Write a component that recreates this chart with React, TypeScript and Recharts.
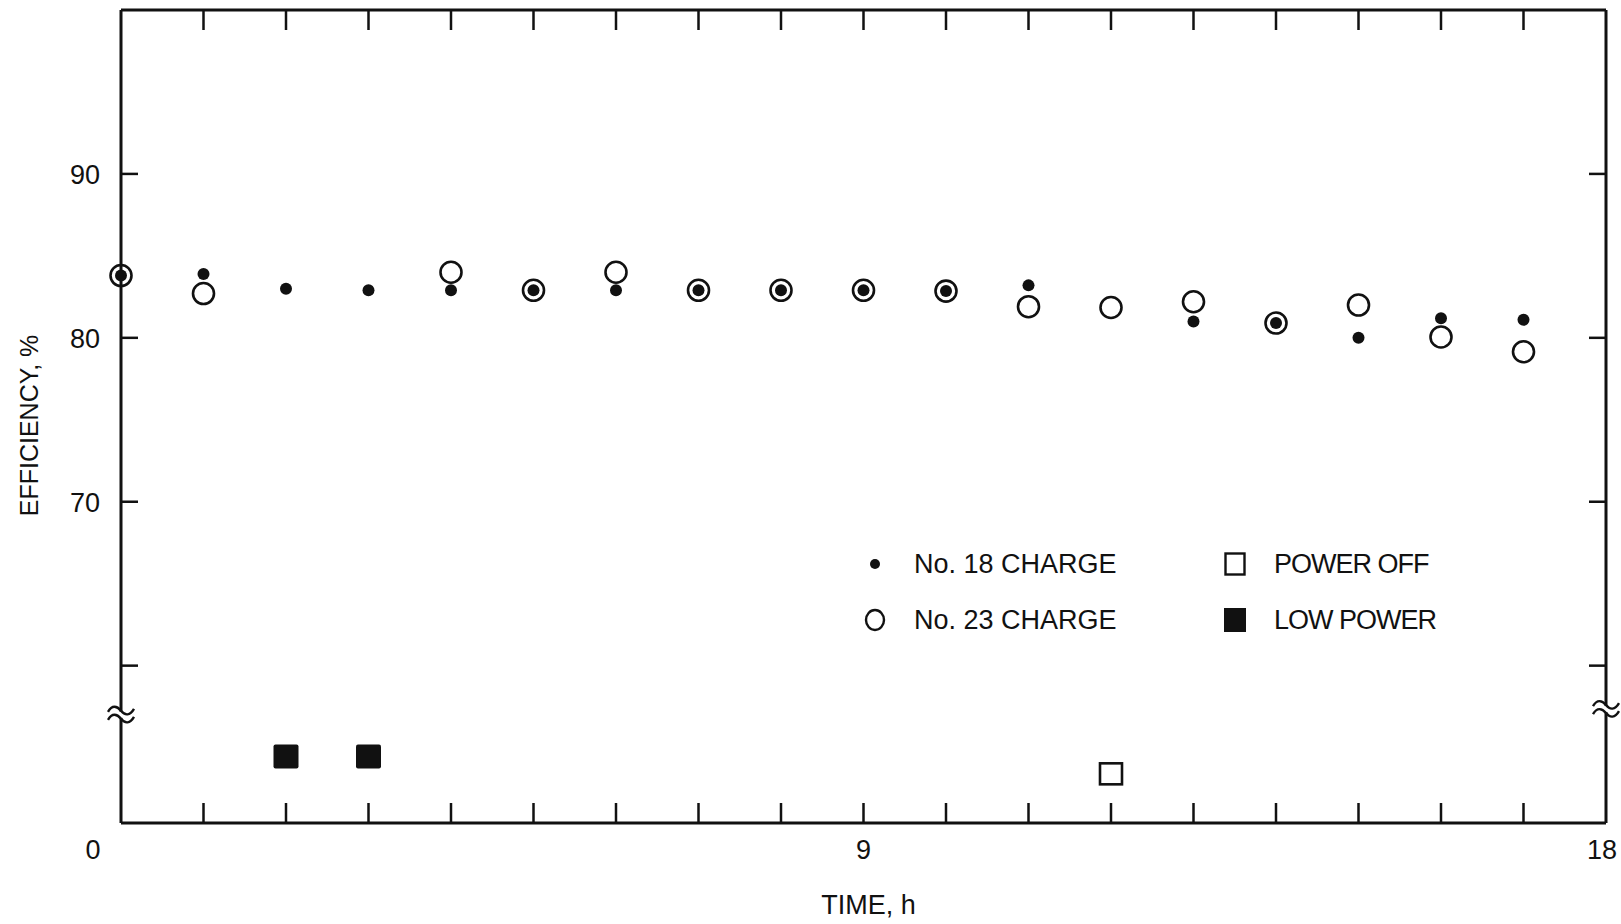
import React from 'react';
import { ScatterChart, Scatter, XAxis, YAxis, ReferenceDot } from 'recharts';

// ---- data ----
const hours = [0, 1, 2, 3, 4, 5, 6, 7, 8, 9, 10, 11, 12, 13, 14, 15, 16, 17];
const no18Charge: (number | null)[] = [83.8, 83.9, 83.0, 82.9, 82.9, 82.9, 82.9, 82.9, 82.9, 82.9, 82.85, 83.2, null, 81.0, 80.9, 80.0, 81.2, 81.1];
const no23Charge: (number | null)[] = [83.8, 82.7, null, null, 84.0, 82.9, 84.0, 82.9, 82.9, 82.9, 82.85, 81.9, 81.85, 82.2, 80.9, 82.0, 80.05, 79.15];
const lowPowerHours = [2, 3];
const lowPowerMarks = [54.45, 54.45];
const powerOffHours = [12];
const powerOffMarks = [53.4];
const xTicks = [0, 1, 2, 3, 4, 5, 6, 7, 8, 9, 10, 11, 12, 13, 14, 15, 16, 17, 18];
const xTickLabels = [0, 9, 18];
const yTicks = [60, 70, 80, 90];
const yTickLabels = [70, 80, 90];
const breakMarks = [{ x: 0, y: 57.0 }, { x: 18, y: 57.35 }];
const X_DOMAIN: [number, number] = [0, 18];
const Y_DOMAIN: [number, number] = [50.4, 100];

const toPoints = (xs: number[], ys: (number | null)[]) =>
  xs.map((x, i) => ({ x, y: ys[i] })).filter((p) => p.y !== null && p.y !== undefined);

const no18Data = toPoints(hours, no18Charge);
const no23Data = toPoints(hours, no23Charge);
const lowPowerData = toPoints(lowPowerHours, lowPowerMarks);
const powerOffData = toPoints(powerOffHours, powerOffMarks);

const FONT = "'Liberation Sans', Arial, sans-serif";
const INK = '#111';
const FS = 27;

const BottomTick = (props: any) => {
  const { x, y, payload } = props;
  const v = payload.value;
  const dx = v === 0 ? -28 : v === 18 ? -4 : 0;
  return (
    <g>
      {v > 0 && v < 18 && <line x1={x} x2={x} y1={y} y2={y - 20} stroke={INK} strokeWidth={2.5} />}
      {xTickLabels.includes(v) && (
        <text x={x + dx} y={y + 27} textAnchor="middle" dominantBaseline="central" fontSize={FS} fontFamily={FONT} fill={INK}>
          {v}
        </text>
      )}
    </g>
  );
};

const TopTick = (props: any) => {
  const { x, y, payload } = props;
  const v = payload.value;
  if (v <= 0 || v >= 18) return <g />;
  return <line x1={x} x2={x} y1={y} y2={y + 20} stroke={INK} strokeWidth={2.5} />;
};

const LeftTick = (props: any) => {
  const { x, y, payload } = props;
  const v = payload.value;
  return (
    <g>
      <line x1={x} x2={x + 17} y1={y} y2={y} stroke={INK} strokeWidth={2.5} />
      {yTickLabels.includes(v) && (
        <text x={x - 21} y={y + 1} textAnchor="end" dominantBaseline="central" fontSize={FS} fontFamily={FONT} fill={INK}>
          {v}
        </text>
      )}
    </g>
  );
};

const RightTick = (props: any) => {
  const { x, y } = props;
  return <line x1={x} x2={x - 17} y1={y} y2={y} stroke={INK} strokeWidth={2.5} />;
};

const Nothing = () => <g />;
const OpenCircle = (p: any) => <circle cx={p.cx} cy={p.cy} r={10.5} fill="none" stroke={INK} strokeWidth={2.6} />;
const Dot = (p: any) => <circle cx={p.cx} cy={p.cy} r={6} fill={INK} />;
const FilledSquare = (p: any) => <rect x={p.cx - 12.5} y={p.cy - 12} width={25} height={24} rx={2} fill={INK} />;
const OpenSquare = (p: any) => <rect x={p.cx - 11} y={p.cy - 10.5} width={22} height={21} fill="none" stroke={INK} strokeWidth={2.6} />;

const BreakMark = (p: any) => {
  const { cx, cy } = p;
  const wave = (yy: number) => `M ${cx - 13},${yy + 1} c 4,-7 9,-6 13,-1 s 9,5 13,-2`;
  return (
    <g>
      <rect x={cx - 3} y={cy - 3} width={6} height={6} fill="#fff" />
      <path d={wave(cy - 4)} fill="none" stroke={INK} strokeWidth={2.4} />
      <path d={wave(cy + 4)} fill="none" stroke={INK} strokeWidth={2.4} />
    </g>
  );
};

const legendItems = [
  { label: 'No. 18 CHARGE', kind: 'dot', col: 0, row: 0 },
  { label: 'No. 23 CHARGE', kind: 'circle', col: 0, row: 1 },
  { label: 'POWER OFF', kind: 'osquare', col: 1, row: 0 },
  { label: 'LOW POWER', kind: 'fsquare', col: 1, row: 1 },
];

const LegendIcon = ({ kind }: { kind: string }) => {
  return (
    <svg width={26} height={26} style={{ display: 'block' }}>
      {kind === 'dot' && <circle cx={13} cy={13} r={5} fill={INK} />}
      {kind === 'circle' && <ellipse cx={13} cy={13} rx={9} ry={10} fill="none" stroke={INK} strokeWidth={2.4} />}
      {kind === 'osquare' && <rect x={3.5} y={2.5} width={19} height={21} fill="none" stroke={INK} strokeWidth={2.4} />}
      {kind === 'fsquare' && <rect x={2} y={1} width={22} height={24} fill={INK} />}
    </svg>
  );
};

export default function App() {
  return (
    <div style={{ position: 'absolute', left: 0, top: 0, width: 1621, height: 924, background: '#fff', fontFamily: FONT }}>
      <ScatterChart width={1621} height={924} margin={{ top: 0, right: 5, bottom: 0, left: 0 }}>
        <XAxis
          xAxisId="bottom"
          type="number"
          dataKey="x"
          domain={X_DOMAIN}
          ticks={xTicks}
          interval={0}
          height={101}
          tickSize={0}
          tickMargin={0}
          tick={<BottomTick />}
          axisLine={{ stroke: INK, strokeWidth: 3 }}
          label={{
            content: (p: any) => {
              const vb = p.viewBox || {};
              return (
                <text x={vb.x + vb.width / 2 + 5} y={vb.y + 82} textAnchor="middle" dominantBaseline="central" fontSize={FS} fontFamily={FONT} fill={INK}>
                  TIME, h
                </text>
              );
            },
          }}
        />
        <XAxis
          xAxisId="top"
          orientation="top"
          type="number"
          dataKey="x"
          domain={X_DOMAIN}
          ticks={xTicks}
          interval={0}
          height={10}
          tickSize={0}
          tickMargin={0}
          tick={<TopTick />}
          axisLine={{ stroke: INK, strokeWidth: 3 }}
        />
        <YAxis
          yAxisId="left"
          type="number"
          dataKey="y"
          domain={Y_DOMAIN}
          ticks={yTicks}
          interval={0}
          width={121}
          tickSize={0}
          tickMargin={0}
          tick={<LeftTick />}
          axisLine={{ stroke: INK, strokeWidth: 3 }}
          label={{
            content: (p: any) => {
              const vb = p.viewBox || {};
              const cx = vb.x + 29;
              const cy = vb.y + vb.height / 2 + 9;
              return (
                <text x={cx} y={cy} transform={`rotate(-90 ${cx} ${cy})`} textAnchor="middle" dominantBaseline="central" fontSize={25} fontFamily={FONT} fill={INK}>
                  EFFICIENCY, %
                </text>
              );
            },
          }}
        />
        <YAxis
          yAxisId="right"
          orientation="right"
          type="number"
          dataKey="y"
          domain={Y_DOMAIN}
          ticks={yTicks}
          interval={0}
          width={10}
          tickSize={0}
          tickMargin={0}
          tick={<RightTick />}
          axisLine={{ stroke: INK, strokeWidth: 3 }}
        />
        <Scatter name="frame" data={no18Data} xAxisId="top" yAxisId="right" shape={Nothing} legendType="none" isAnimationActive={false} />
        <Scatter name="No. 23 CHARGE" data={no23Data} xAxisId="bottom" yAxisId="left" shape={OpenCircle} isAnimationActive={false} />
        <Scatter name="No. 18 CHARGE" data={no18Data} xAxisId="bottom" yAxisId="left" shape={Dot} isAnimationActive={false} />
        <Scatter name="LOW POWER" data={lowPowerData} xAxisId="bottom" yAxisId="left" shape={FilledSquare} isAnimationActive={false} />
        <Scatter name="POWER OFF" data={powerOffData} xAxisId="bottom" yAxisId="left" shape={OpenSquare} isAnimationActive={false} />
        {breakMarks.map((b, i) => (
          <ReferenceDot key={i} x={b.x} y={b.y} xAxisId="bottom" yAxisId="left" r={0} shape={BreakMark} />
        ))}
      </ScatterChart>
      {legendItems.map((it) => {
        const iconCx = it.col === 0 ? 875 : 1235;
        const cy = it.row === 0 ? 564 : 620;
        const textX = it.col === 0 ? 914 : 1274;
        return (
          <React.Fragment key={it.label}>
            <div style={{ position: 'absolute', left: iconCx - 13, top: cy - 13 }}>
              <LegendIcon kind={it.kind} />
            </div>
            <div style={{ position: 'absolute', left: textX, top: cy - 17, height: 34, lineHeight: '34px', fontSize: FS, color: INK, whiteSpace: 'nowrap', letterSpacing: it.col === 1 ? -1 : 0 }}>
              {it.label}
            </div>
          </React.Fragment>
        );
      })}
    </div>
  );
}
